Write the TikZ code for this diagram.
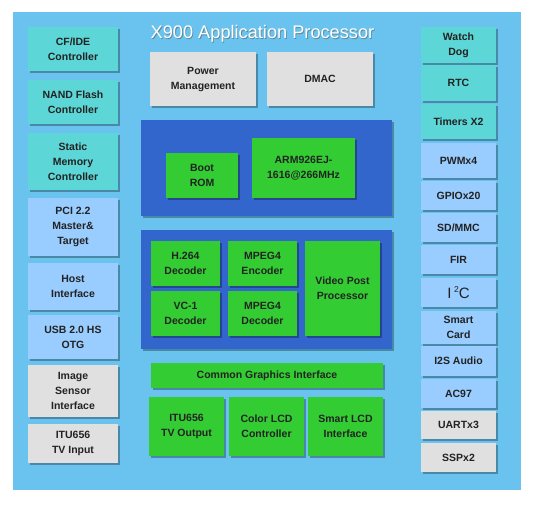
\documentclass[tikz,border=0pt]{standalone}
\usepackage{fontspec}
\setmainfont{Liberation Sans}
\usetikzlibrary{shadows}
\definecolor{bgblue}{HTML}{6AC3EF}
\definecolor{darkblue}{HTML}{3366CC}
\definecolor{chipgreen}{HTML}{33CC33}
\definecolor{tealbox}{HTML}{5CD6D6}
\definecolor{lightbox}{HTML}{99CCFF}
\definecolor{graybox}{HTML}{E0E0E0}
\definecolor{txt}{HTML}{222222}
\tikzset{
  blk/.style={draw=none, inner sep=1pt, align=center, text=txt,
    font=\fontsize{10.5}{15}\selectfont\bfseries,
    drop shadow={shadow xshift=1.5pt, shadow yshift=-1.5pt, opacity=0.3, fill=black}},
  tealb/.style={blk, fill=tealbox},
  lightb/.style={blk, fill=lightbox},
  grayb/.style={blk, fill=graybox},
  greenb/.style={blk, fill=chipgreen},
  blueb/.style={blk, fill=darkblue},
  lcol/.style={minimum width=90pt},
  rcol/.style={minimum width=75pt},
}
\begin{document}
\begin{tikzpicture}[x=1pt,y=-1pt]
\useasboundingbox (0,0) rectangle (546,506);
\fill[white] (0,0) rectangle (546,506);
\node[draw=none, fill=bgblue, minimum width=508pt, minimum height=478pt, inner sep=0pt] (bg) at (267,251) {};
% title
\node[text=black!70, opacity=0.5, font=\fontsize{18.2}{20}\selectfont] at (263.3,34.3) {X900 Application Processor};
\node[text=white, font=\fontsize{18.2}{20}\selectfont] (title) at (262.5,33.5) {X900 Application Processor};
% left column
\node[tealb, lcol, minimum height=44pt] (cfide) at (73,49) {CF/IDE\\Controller};
\node[tealb, lcol, minimum height=44pt] (nand) at (73,102) {NAND Flash\\Controller};
\node[tealb, lcol, minimum height=57pt] (smc) at (73,161.5) {Static\\Memory\\Controller};
\node[lightb, lcol, minimum height=58pt] (pci) at (73,227) {PCI 2.2\\Master\&\\Target};
\node[lightb, lcol, minimum height=47pt] (host) at (73,286.5) {Host\\Interface};
\node[lightb, lcol, minimum height=44pt] (usb) at (73,337) {USB 2.0 HS\\OTG};
\node[grayb, lcol, minimum height=52pt] (isi) at (73,391) {Image\\Sensor\\Interface};
\node[grayb, lcol, minimum height=39pt] (ituin) at (73,443.5) {ITU656\\TV Input};
% top
\node[grayb, minimum width=106pt, minimum height=54pt] (pm) at (203,79) {Power\\Management};
\node[grayb, minimum width=106pt, minimum height=54pt] (dmac) at (320,79) {DMAC};
% CPU block
\node[blueb, minimum width=251pt, minimum height=96pt] (cpu) at (266.5,168) {};
\node[greenb, minimum width=72pt, minimum height=45pt] (boot) at (202,175.5) {Boot\\ROM};
\node[greenb, minimum width=103pt, minimum height=60pt] (arm) at (303.5,168) {ARM926EJ-\\1616@266MHz};
% video block
\node[blueb, minimum width=251pt, minimum height=119pt] (video) at (266.5,289.5) {};
\node[greenb, minimum width=69pt, minimum height=45pt] (h264) at (185.5,263.5) {H.264\\Decoder};
\node[greenb, minimum width=69pt, minimum height=45pt] (vc1) at (185.5,313.5) {VC-1\\Decoder};
\node[greenb, minimum width=69pt, minimum height=45pt] (menc) at (262.5,263.5) {MPEG4\\Encoder};
\node[greenb, minimum width=69pt, minimum height=45pt] (mdec) at (262.5,313.5) {MPEG4\\Decoder};
\node[greenb, minimum width=75pt, minimum height=95pt] (vpp) at (342.5,288.5) {Video Post\\Processor};
% graphics
\node[greenb, minimum width=232pt, minimum height=25pt] (cgi) at (267,375.5) {Common Graphics Interface};
\node[greenb, minimum width=75pt, minimum height=59pt] (ituout) at (186.5,426.5) {ITU656\\TV Output};
\node[greenb, minimum width=75pt, minimum height=59pt] (clcd) at (266.5,426.5) {Color LCD\\Controller};
\node[greenb, minimum width=75pt, minimum height=59pt] (slcd) at (345.5,426.5) {Smart LCD\\Interface};
% right column
\node[tealb, rcol, minimum height=36pt] (wdog) at (458.5,45) {Watch\\Dog};
\node[tealb, rcol, minimum height=36pt] (rtc) at (458.5,83) {RTC};
\node[tealb, rcol, minimum height=35pt] (timers) at (458.5,121.5) {Timers X2};
\node[lightb, rcol, minimum height=35pt] (pwm) at (458.5,160.5) {PWMx4};
\node[lightb, rcol, minimum height=29pt] (gpio) at (458.5,195.5) {GPIOx20};
\node[lightb, rcol, minimum height=29pt] (sdmmc) at (458.5,227.5) {SD/MMC};
\node[lightb, rcol, minimum height=29pt] (fir) at (458.5,259.5) {FIR};
\node[lightb, rcol, minimum height=29pt, font=\fontsize{15}{17}\selectfont] (i2c) at (458.5,292.5) {I\,\raisebox{0.45em}{\fontsize{8.5}{10}\selectfont 2}C};
\node[lightb, rcol, minimum height=33pt] (scard) at (458.5,327.5) {Smart\\Card};
\node[lightb, rcol, minimum height=30pt] (i2s) at (458.5,361) {I2S Audio};
\node[lightb, rcol, minimum height=29pt] (ac97) at (458.5,393.5) {AC97};
\node[grayb, rcol, minimum height=28pt] (uart) at (458.5,425) {UARTx3};
\node[grayb, rcol, minimum height=29pt] (ssp) at (458.5,457.5) {SSPx2};
\end{tikzpicture}
\end{document}
